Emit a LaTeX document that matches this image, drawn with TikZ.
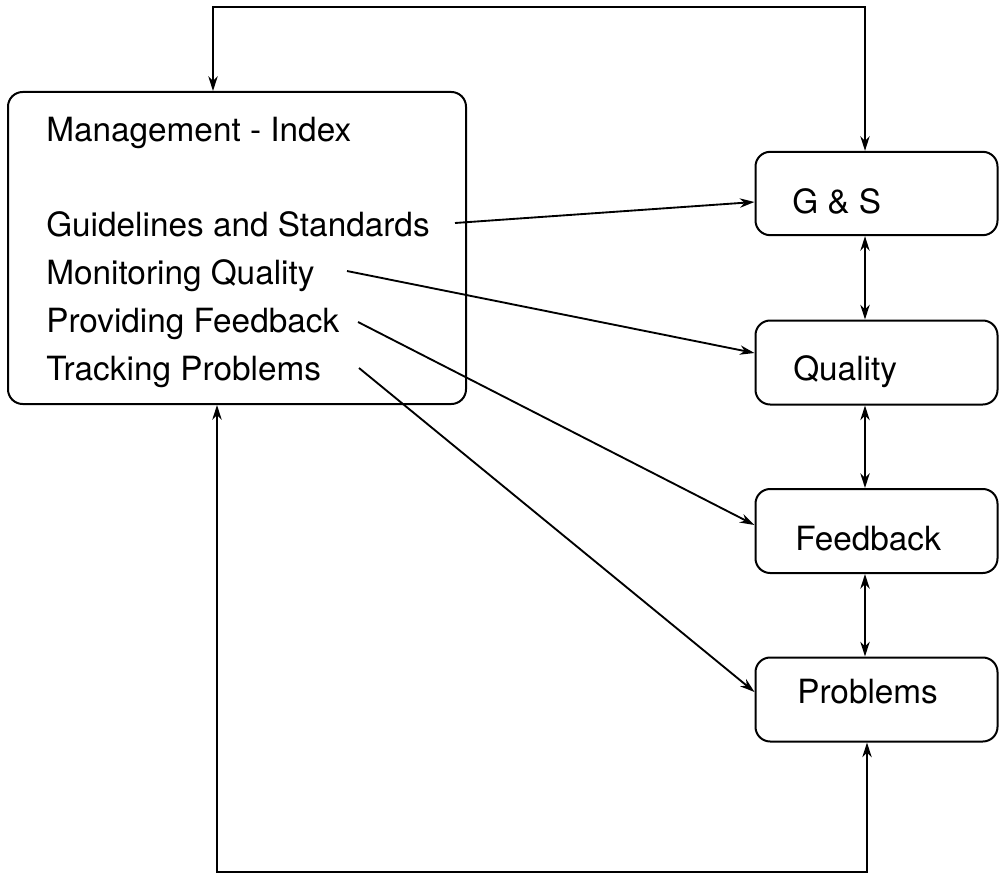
\documentclass[tikz,border=0pt]{standalone}
\usepackage{fontspec}
\setmainfont{TeX Gyre Heros}
\usetikzlibrary{arrows.meta}
\begin{document}
\begin{tikzpicture}[x=0.75pt,y=-0.75pt,
  box/.style={draw,line width=1.5pt,rounded corners=11pt,inner sep=0pt},
  lbl/.style={anchor=base west,inner sep=0pt,font=\fontsize{25}{30}\selectfont},
  conn/.style={line width=1.4pt,-{Stealth[length=11pt,width=7pt,inset=3.5pt]}},
  dconn/.style={line width=1.4pt,{Stealth[length=11pt,width=7pt,inset=3.5pt]}-{Stealth[length=11pt,width=7pt,inset=3.5pt]}}]
\useasboundingbox (0,0) rectangle (999,874);
% main box
\node[box,minimum width=343.5pt,minimum height=234pt] (main) at (237,248) {};
\node[lbl] (title) at (46,141) {Management - Index};
\node[lbl] (t1) at (46,236) {Guidelines and Standards};
\node[lbl] (t2) at (46,284) {Monitoring Quality};
\node[lbl] (t3) at (46,332) {Providing Feedback};
\node[lbl] (t4) at (46,380) {Tracking Problems};
% right boxes
\node[box,minimum width=181.5pt,minimum height=62.5pt] (gs) at (876.5,193.5) {};
\node[box,minimum width=181.5pt,minimum height=63pt] (q) at (876.5,362.5) {};
\node[box,minimum width=181.5pt,minimum height=63pt] (f) at (876.5,531) {};
\node[box,minimum width=181.5pt,minimum height=63pt] (p) at (876.5,699.5) {};
\node[lbl] (gst) at (792,213) {G \& S};
\node[lbl] (qt) at (793,380) {Quality};
\node[lbl] (ft) at (795,550) {Feedback};
\node[lbl] (pt) at (797,703) {Problems};
% corner coordinates
\coordinate (tl) at (213,7);
\coordinate (tr) at (865,7);
\coordinate (bl) at (217,872);
\coordinate (br) at (867,872);
\coordinate (s1) at (455,223);
\coordinate (s2) at (347,271);
\coordinate (s3) at (358,322);
\coordinate (s4) at (359,368);
% loops
\draw[dconn] (main.north -| tl) -- (tl) -- (tr) -- (gs.north -| tr);
\draw[dconn] (main.south -| bl) -- (bl) -- (br) -- (p.south -| br);
% verticals between right boxes
\draw[dconn] (gs.south -| tr) -- (q.north -| tr);
\draw[dconn] (q.south -| tr) -- (f.north -| tr);
\draw[dconn] (f.south -| tr) -- (p.north -| tr);
% slanted
\draw[conn] (s1) -- (gs.west |- 0,202);
\draw[conn] (s2) -- (q.west |- 0,353);
\draw[conn] (s3) -- (f.west |- 0,525);
\draw[conn] (s4) -- (p.west |- 0,692);
\end{tikzpicture}
\end{document}
